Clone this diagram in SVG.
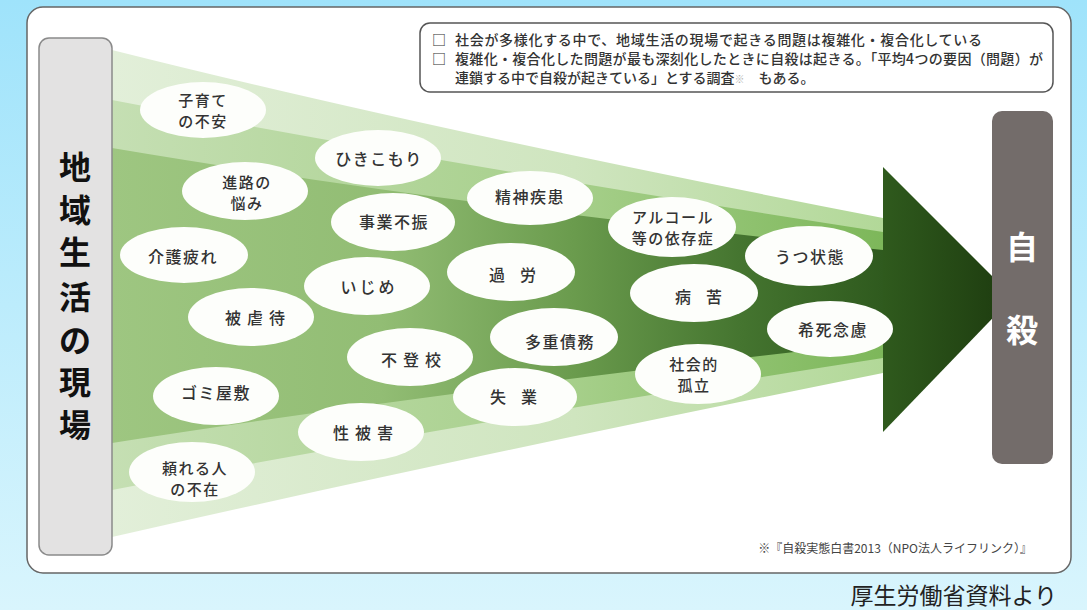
<svg xmlns="http://www.w3.org/2000/svg" width="1087" height="610" viewBox="0 0 1087 610">
<defs>
<linearGradient id="bg" x1="0" y1="0" x2="0" y2="1">
<stop offset="0" stop-color="#9fe3fb"/>
<stop offset="1" stop-color="#d9f5fd"/>
</linearGradient>
<linearGradient id="gA" gradientUnits="userSpaceOnUse" x1="112" y1="0" x2="883" y2="0">
<stop offset="0" stop-color="#e2efd9"/>
<stop offset="0.6" stop-color="#cfe5bf"/>
<stop offset="1" stop-color="#b2d898"/>
</linearGradient>
<linearGradient id="gB" gradientUnits="userSpaceOnUse" x1="112" y1="0" x2="883" y2="0">
<stop offset="0" stop-color="#c5dfb3"/>
<stop offset="0.6" stop-color="#a6cf8a"/>
<stop offset="1" stop-color="#7db75a"/>
</linearGradient>
<linearGradient id="gC" gradientUnits="userSpaceOnUse" x1="112" y1="0" x2="883" y2="0">
<stop offset="0" stop-color="#9ec681"/>
<stop offset="0.35" stop-color="#92bd74"/>
<stop offset="0.6" stop-color="#6a9b4d"/>
<stop offset="0.82" stop-color="#44742f"/>
<stop offset="1" stop-color="#2f5a1e"/>
</linearGradient>
<linearGradient id="gArrow" x1="0" y1="0" x2="1" y2="0">
<stop offset="0" stop-color="#2f5a1d"/>
<stop offset="1" stop-color="#1d3b0f"/>
</linearGradient>
<style>
.el{fill:#fdfefb}
.t{font-family:"Noto Sans CJK JP","Noto Sans CJK SC",sans-serif;font-size:16px;fill:#333;text-anchor:middle;font-weight:500;letter-spacing:1.5px}
.t2{font-size:15px}
.note{font-family:"Noto Sans CJK JP","Noto Sans CJK SC",sans-serif;font-size:14px;fill:#333;font-weight:500}
.big{font-family:"Noto Sans CJK JP","Noto Sans CJK SC",sans-serif;font-size:32px;font-weight:bold;text-anchor:middle}
</style>
</defs>
<rect x="0" y="0" width="1087" height="610" fill="url(#bg)"/>
<rect id="card" x="27" y="7" width="1044" height="566" rx="16" fill="#ffffff" stroke="#666" stroke-width="1.5"/>

<g id="note">
<rect x="420" y="23" width="633" height="69" rx="10" fill="#fff" stroke="#555" stroke-width="1.5"/>
<text class="note" x="432" y="45">□</text>
<text class="note" x="455" y="45" textLength="527">社会が多様化する中で、地域生活の現場で起きる問題は複雑化・複合化している</text>
<text class="note" x="432" y="64">□</text>
<text class="note" x="455" y="64" textLength="588">複雑化・複合化した問題が最も深刻化したときに自殺は起きる。「平均4つの要因（問題）が</text>
<text class="note" x="455" y="83">連鎖する中で自殺が起きている」とする調査<tspan fill="#aaa" font-size="10">※</tspan>　もある。</text>
</g>

<g id="fan">
<path d="M112,50 Q430,130 883,218 L883,373 Q450,460 112,537 Z" fill="url(#gA)"/>
<path d="M112,100 Q450,165 883,232 L883,358 Q450,425 112,490 Z" fill="url(#gB)"/>
<path d="M112,148 Q450,205 883,250 L883,342 Q450,390 112,443 Z" fill="url(#gC)"/>
</g>

<g id="arrow">
<polygon points="883,167 1013,297 883,432" fill="url(#gArrow)"/>
</g>

<g id="left-box">
<rect x="39" y="38" width="73" height="517" rx="10" fill="#e3e2e2" stroke="#8a8a8a" stroke-width="1.5"/>
<text class="big" x="75" y="179" fill="#111">地</text>
<text class="big" x="75" y="222" fill="#111">域</text>
<text class="big" x="75" y="264" fill="#111">生</text>
<text class="big" x="75" y="309" fill="#111">活</text>
<text class="big" x="75" y="352" fill="#111">の</text>
<text class="big" x="75" y="394" fill="#111">現</text>
<text class="big" x="75" y="437" fill="#111">場</text>
</g>

<g id="right-box">
<rect x="992" y="111" width="61" height="353" rx="10" fill="#736c6a"/>
<text class="big" x="1022" y="259" fill="#fff">自</text>
<text class="big" x="1022" y="342" fill="#fff">殺</text>
</g>

<g id="n-kosodate"><ellipse class="el" cx="203" cy="110" rx="63" ry="28"/><text class="t t2" x="203" y="106">子育て</text><text class="t t2" x="203" y="127">の不安</text></g>
<g id="n-shinro"><ellipse class="el" cx="245" cy="191" rx="63" ry="29"/><text class="t t2" x="247" y="188">進路の</text><text class="t t2" x="247" y="209">悩み</text></g>
<g id="n-kaigo"><ellipse class="el" cx="184" cy="255" rx="64" ry="28"/><text class="t" x="183" y="263">介護疲れ</text></g>
<g id="n-higyakutai"><ellipse class="el" cx="251" cy="317" rx="63" ry="29"/><text class="t" x="258" y="324" style="letter-spacing:6px">被虐待</text></g>
<g id="n-gomi"><ellipse class="el" cx="216" cy="396" rx="63" ry="29"/><text class="t" x="216" y="399">ゴミ屋敷</text></g>
<g id="n-tayoreru"><ellipse class="el" cx="192" cy="472" rx="63" ry="30"/><text class="t t2" x="195" y="474">頼れる人</text><text class="t t2" x="195" y="495">の不在</text></g>
<g id="n-hikikomori"><ellipse class="el" cx="378" cy="158" rx="63" ry="28"/><text class="t" x="379" y="165">ひきこもり</text></g>
<g id="n-jigyou"><ellipse class="el" cx="393" cy="222" rx="62" ry="29"/><text class="t" x="394" y="228">事業不振</text></g>
<g id="n-ijime"><ellipse class="el" cx="367" cy="286" rx="63" ry="29"/><text class="t" x="369" y="293" style="letter-spacing:3px">いじめ</text></g>
<g id="n-futoukou"><ellipse class="el" cx="410" cy="357" rx="63" ry="29"/><text class="t" x="414" y="366" style="letter-spacing:6px">不登校</text></g>
<g id="n-seihigai"><ellipse class="el" cx="361" cy="432" rx="63" ry="29"/><text class="t" x="366" y="439" style="letter-spacing:6px">性被害</text></g>
<g id="n-seishin"><ellipse class="el" cx="530" cy="198" rx="63" ry="27"/><text class="t" x="530" y="203">精神疾患</text></g>
<g id="n-karou"><ellipse class="el" cx="511" cy="272" rx="64" ry="29"/><text class="t" x="520" y="281" style="letter-spacing:15px">過労</text></g>
<g id="n-taju"><ellipse class="el" cx="554" cy="337" rx="64" ry="29"/><text class="t" x="560" y="348">多重債務</text></g>
<g id="n-shitsugyou"><ellipse class="el" cx="515" cy="397" rx="62" ry="29"/><text class="t" x="521" y="403" style="letter-spacing:15px">失業</text></g>
<g id="n-alcohol"><ellipse class="el" cx="672" cy="227" rx="64" ry="30"/><text class="t t2" x="673" y="223">アルコール</text><text class="t t2" x="673" y="244">等の依存症</text></g>
<g id="n-byouku"><ellipse class="el" cx="694" cy="293" rx="64" ry="29"/><text class="t" x="706" y="303" style="letter-spacing:15px">病苦</text></g>
<g id="n-shakai"><ellipse class="el" cx="698" cy="374" rx="63" ry="30"/><text class="t t2" x="694" y="370">社会的</text><text class="t t2" x="694" y="391">孤立</text></g>
<g id="n-utsu"><ellipse class="el" cx="809" cy="256" rx="64" ry="30"/><text class="t" x="810" y="263">うつ状態</text></g>
<g id="n-kishi"><ellipse class="el" cx="830" cy="329" rx="63" ry="28"/><text class="t" x="833" y="336">希死念慮</text></g>

<text x="1032" y="553" font-family="'Noto Sans CJK JP','Noto Sans CJK SC',sans-serif" font-size="12" fill="#444" text-anchor="end">※『自殺実態白書2013（NPO法人ライフリンク）』</text>
<text x="1057" y="604" font-family="'Noto Sans CJK JP','Noto Sans CJK SC',sans-serif" font-size="23" fill="#222" text-anchor="end">厚生労働省資料より</text>
</svg>
